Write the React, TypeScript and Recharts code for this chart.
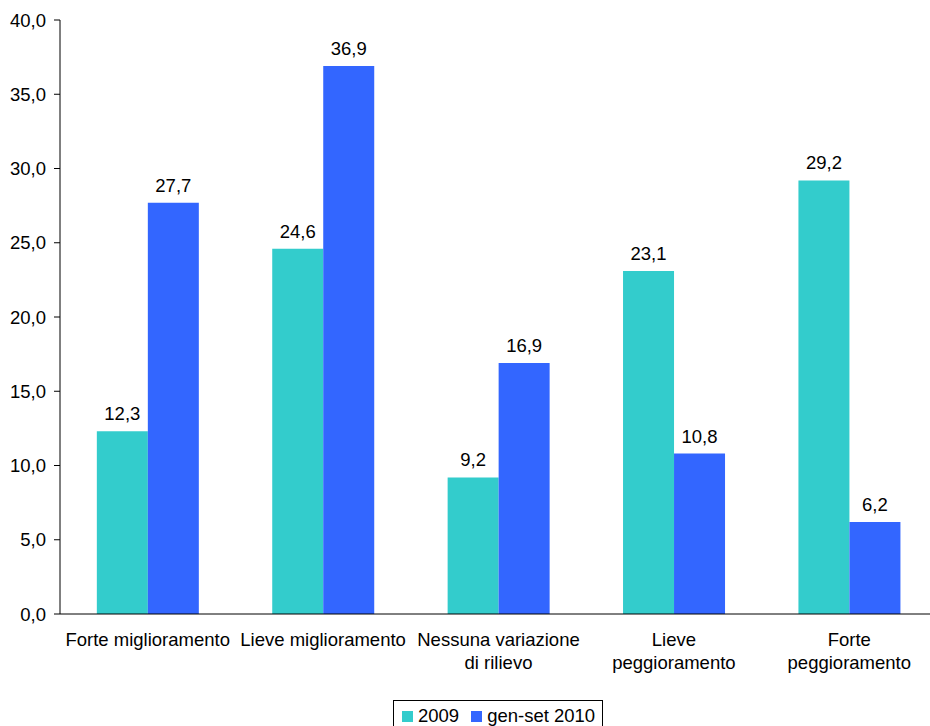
import React from 'react';
import { BarChart, Bar, XAxis, YAxis, Legend, LabelList } from 'recharts';

const categories = [
    'Forte miglioramento',
    'Lieve miglioramento',
    'Nessuna variazione\ndi rilievo',
    'Lieve\npeggioramento',
    'Forte\npeggioramento',
];
const values2009 = [12.3, 24.6, 9.2, 23.1, 29.2];
const values2010 = [27.7, 36.9, 16.9, 10.8, 6.2];
const yTicks = [0, 5, 10, 15, 20, 25, 30, 35, 40];

const series = [
    { key: 'v2009', name: '2009', color: '#33CCCC' },
    { key: 'v2010', name: 'gen-set 2010', color: '#3366FF' },
];

const data = categories.map((c, i) => ({ name: c, v2009: values2009[i], v2010: values2010[i] }));

const FONT = '"Liberation Sans", Arial, sans-serif';
const FS = 18.5;
const fmt = (v: number) => v.toFixed(1).replace('.', ',');

const CategoryTick = (props: any) => {
    const { x, y, payload } = props;
    const lines = String(payload.value).split('\n');
    return (
        <text x={x} y={y} textAnchor="middle" fontSize={FS} fill="#000" fontFamily={FONT}>
            {lines.map((l, i) => (
                <tspan key={i} x={x} dy={i === 0 ? 24 : 23}>{l}</tspan>
            ))}
        </text>
    );
};

const LegendBox = () => (
    <div style={{
        display: 'flex', alignItems: 'center', border: '1px solid #000', padding: '0 6px 0 8px',
        fontFamily: FONT, fontSize: FS, color: '#000', background: '#fff', height: 32, boxSizing: 'border-box',
        width: 210, whiteSpace: 'nowrap',
    }}>
        {series.map((s) => (
            <span key={s.key} style={{ display: 'inline-flex', alignItems: 'center', marginRight: s.key === 'v2009' ? 12 : 0 }}>
                <span style={{ width: 11, height: 11, background: s.color, display: 'inline-block', marginRight: 5 }} />
                {s.name}
            </span>
        ))}
    </div>
);

export default function App() {
    return (
        <div style={{ position: 'absolute', left: 0, top: 0, width: 930, height: 726, overflow: 'hidden', background: '#fff' }}>
            <BarChart
                width={937}
                height={726}
                data={data}
                margin={{ top: 20, right: 0, left: 0, bottom: 0 }}
                barCategoryGap="21%"
                barGap={0}
            >
                <YAxis
                    domain={[0, 40]}
                    ticks={yTicks}
                    tickFormatter={fmt}
                    width={60}
                    tickSize={6}
                    tickMargin={8}
                    axisLine={{ stroke: '#000' }}
                    tickLine={{ stroke: '#000' }}
                    tick={{ fontSize: FS, fill: '#000', fontFamily: FONT }}
                    interval={0}
                />
                <XAxis
                    dataKey="name"
                    height={80}
                    tickLine={false}
                    axisLine={{ stroke: '#000' }}
                    tick={<CategoryTick />}
                    interval={0}
                />
                <Legend
                    verticalAlign="bottom"
                    content={<LegendBox />}
                    wrapperStyle={{ left: 393, top: 700, width: 210, height: 32 }}
                />
                {series.map((s) => (
                    <Bar key={s.key} dataKey={s.key} name={s.name} fill={s.color} isAnimationActive={false}>
                        <LabelList dataKey={s.key} position="top" offset={11} formatter={(v: any) => fmt(Number(v))}
                            style={{ fontSize: FS, fill: '#000', fontFamily: FONT }} />
                    </Bar>
                ))}
            </BarChart>
        </div>
    );
}
